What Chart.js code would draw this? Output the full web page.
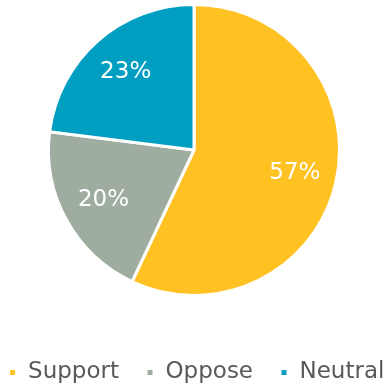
<!DOCTYPE html>
<html>
<head>
<meta charset="utf-8">
<script src="https://cdn.jsdelivr.net/npm/chart.js@4/dist/chart.umd.min.js"></script>
<style>
  html, body { margin: 0; padding: 0; background: #ffffff; }
  #wrap { position: relative; width: 390px; height: 385px; }
</style>
</head>
<body>
<div id="wrap"><canvas id="pie" width="390" height="385"></canvas></div>
<script>
// Survey response shares (percent)
const categories = ['Support', 'Oppose', 'Neutral'];
const shares = [57, 20, 23];
const sliceColors = ['#FFC222', '#9EAD9F', '#009FC2'];

const FONT = "'DejaVu Sans', Verdana, sans-serif";
const LEGEND_GAP = 27;     // space between legend entries
const LEGEND_WIDEN_L = 28; // extra room on the left of the legend row
const LEGEND_WIDEN_R = 33; // extra room on the right of the legend row

// Writes each slice's percentage inside the slice, along its middle angle
const sliceLabels = {
  id: 'sliceLabels',
  afterDatasetsDraw(chart) {
    const ctx = chart.ctx;
    const meta = chart.getDatasetMeta(0);
    const values = chart.data.datasets[0].data;
    ctx.save();
    ctx.font = '23px ' + FONT;
    ctx.fillStyle = '#ffffff';
    ctx.textAlign = 'center';
    ctx.textBaseline = 'middle';
    meta.data.forEach((arc, i) => {
      const p = arc.getProps(['x', 'y', 'startAngle', 'endAngle', 'outerRadius'], true);
      const mid = (p.startAngle + p.endAngle) / 2;
      const r = p.outerRadius * 0.71;
      ctx.fillText(values[i] + '%', p.x + Math.cos(mid) * r, p.y + Math.sin(mid) * r);
    });
    ctx.restore();
  }
};

// Single wide legend row seated near the bottom edge
const legendRow = {
  id: 'legendRow',
  beforeLayout(chart) {
    const lg = chart.legend;
    if (!lg || lg._rowPatched) return;
    const fit = lg.fit;
    lg.fit = function () {
      const mw = this.maxWidth;
      this.maxWidth = mw + 2 * (LEGEND_WIDEN_L + LEGEND_WIDEN_R);
      fit.call(this);
      this.maxWidth = mw;
      this.width = Math.min(this.width, mw);
    };
    lg._rowPatched = true;
  },
  afterLayout(chart) {
    const lg = chart.legend;
    if (!lg) return;
    const pad = lg.options.labels.padding;
    const top = chart.height - 24 - pad;
    const h = lg.height;
    lg.left -= LEGEND_WIDEN_L;
    lg.right += LEGEND_WIDEN_R;
    lg.width += LEGEND_WIDEN_L + LEGEND_WIDEN_R;
    lg.top = top;
    lg.bottom = top + h;
  }
};

new Chart(document.getElementById('pie'), {
  type: 'pie',
  data: {
    labels: categories,
    datasets: [{
      data: shares,
      backgroundColor: sliceColors,
      borderColor: '#ffffff',
      borderWidth: 3
    }]
  },
  options: {
    responsive: false,
    animation: false,
    layout: { padding: { top: 3, bottom: 28, left: 0, right: 2 } },
    plugins: {
      tooltip: { enabled: false },
      legend: {
        position: 'bottom',
        labels: {
          boxWidth: 8,
          boxHeight: 8,
          padding: LEGEND_GAP,
          color: '#595959',
          font: { family: FONT, size: 23 }
        }
      }
    }
  },
  plugins: [sliceLabels, legendRow]
});
</script>
</body>
</html>
